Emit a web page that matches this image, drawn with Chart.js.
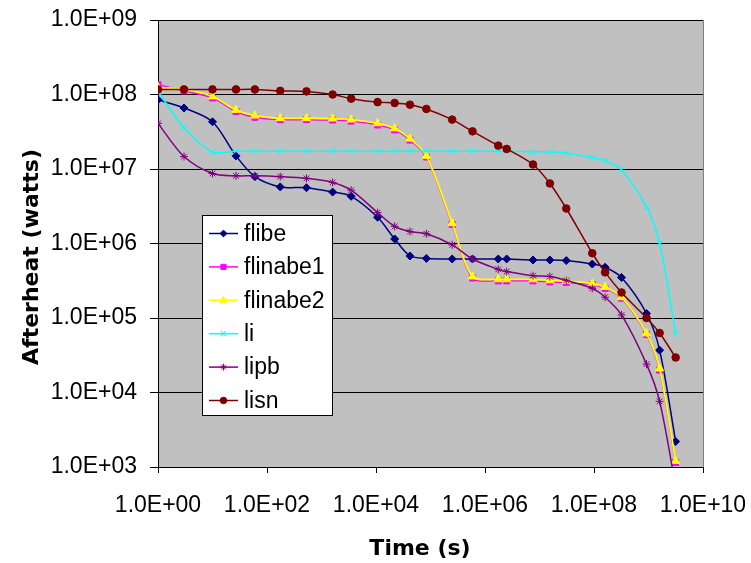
<!DOCTYPE html>
<html lang="en">
<head>
    <meta charset="UTF-8">
    <title>Afterheat vs Time</title>
    <style>
        html, body {
            margin: 0;
            padding: 0;
            background: #ffffff;
        }

        #wrap {
            width: 751px;
            height: 563px;
        }
    </style>
</head>
<body>
<div id="wrap">
    <canvas id="heatChart" width="751" height="563"></canvas>
</div>

<script src="https://cdn.jsdelivr.net/npm/chart.js"></script>
<script>
    // time after shutdown in seconds (1 s up to ~100 years)
    const timeSec = [1, 3, 10, 27, 60, 175, 530, 1600, 3500, 1.07e4, 2.2e4, 4.2e4, 8.4e4,
        2.5e5, 5.9e5, 1.75e6, 2.5e6, 7.6e6, 1.55e7, 3.1e7, 9.3e7, 1.6e8, 3.2e8, 9.2e8, 1.6e9, 3.15e9];

    // afterheat in watts, one value per time step
    const flibe = [8.5e7, 6.6e7, 4.3e7, 1.5e7, 7.9e6, 5.75e6, 5.6e6, 4.9e6, 4.3e6, 2.25e6, 1.15e6, 6.8e5, 6.3e5,
        6.2e5, 6.2e5, 6.2e5, 6.2e5, 6.0e5, 6.0e5, 5.9e5, 5.3e5, 4.8e5, 3.5e5, 1.15e5, 3.7e4, 2.2e3];
    const flinabe1 = [1.35e8, 1.12e8, 9.0e7, 5.9e7, 4.95e7, 4.6e7, 4.6e7, 4.55e7, 4.4e7, 3.9e7, 3.35e7, 2.45e7, 1.45e7,
        1.8e6, 3.45e5, 3.15e5, 3.15e5, 3.15e5, 3.05e5, 3.0e5, 2.8e5, 2.5e5, 1.85e5, 6.0e4, 2.0e4, 1.15e3];
    const flinabe2 = [1.25e8, 1.17e8, 9.4e7, 6.2e7, 5.2e7, 4.8e7, 4.8e7, 4.75e7, 4.6e7, 4.1e7, 3.5e7, 2.55e7, 1.5e7,
        1.87e6, 3.6e5, 3.3e5, 3.3e5, 3.3e5, 3.2e5, 3.15e5, 2.9e5, 2.6e5, 1.9e5, 6.2e4, 2.1e4, 1.2e3];
    const li = [1.1e8, 3.6e7, 1.7e7, 1.73e7, 1.73e7, 1.73e7, 1.73e7, 1.73e7, 1.73e7, 1.73e7, 1.73e7, 1.73e7, 1.73e7,
        1.73e7, 1.73e7, 1.73e7, 1.73e7, 1.7e7, 1.7e7, 1.63e7, 1.42e7, 1.29e7, 9.8e6, 3.1e6, 1.02e6, 6.2e4];
    const lipb = [4.1e7, 1.47e7, 8.7e6, 8.1e6, 8.1e6, 7.9e6, 7.5e6, 6.6e6, 5.2e6, 2.6e6, 1.7e6, 1.45e6, 1.35e6,
        9.6e5, 6.2e5, 4.5e5, 4.2e5, 3.7e5, 3.6e5, 3.2e5, 2.5e5, 1.9e5, 1.1e5, 2.4e4, 7.6e3, 5.5e2];
    const lisn = [1.17e8, 1.17e8, 1.17e8, 1.17e8, 1.17e8, 1.12e8, 1.1e8, 1.0e8, 8.8e7, 7.9e7, 7.7e7, 7.3e7, 6.4e7,
        4.6e7, 3.2e7, 2.06e7, 1.86e7, 1.15e7, 6.4e6, 2.95e6, 7.4e5, 4.1e5, 2.2e5, 1.0e5, 6.3e4, 2.95e4];

    const seriesNames = ['flibe', 'flinabe1', 'flinabe2', 'li', 'lipb', 'lisn'];
    const xTickValues = [1, 1e2, 1e4, 1e6, 1e8, 1e10];
    const yTickValues = [1e3, 1e4, 1e5, 1e6, 1e7, 1e8, 1e9];

    const tickFont = { family: "'Liberation Sans', Arial, sans-serif", size: 23 };
    const titleFont = "bold 22px 'DejaVu Sans', sans-serif";

    // Excel style "1.0E+07"
    function sciLabel(value) {
        const e = Math.round(Math.log10(value));
        const pad = String(Math.abs(e)).padStart(2, '0');
        return '1.0E' + (e < 0 ? '-' : '+') + pad;
    }

    function toPoints(values) {
        return values.map((v, i) => ({ x: timeSec[i], y: v }));
    }

    // gray plot area + right border
    const plotBackground = {
        id: 'plotBackground',
        beforeDraw(chart) {
            const { ctx, chartArea: a } = chart;
            ctx.save();
            ctx.fillStyle = '#c0c0c0';
            ctx.fillRect(a.left, a.top, a.right - a.left, a.bottom - a.top);
            ctx.restore();
        },
        beforeDatasetsDraw(chart) {
            const { ctx, chartArea: a } = chart;
            const rx = Math.round(a.right) + 0.5;
            ctx.save();
            ctx.strokeStyle = '#808080';
            ctx.lineWidth = 1;
            ctx.beginPath();
            ctx.moveTo(rx, a.top);
            ctx.lineTo(rx, a.bottom);
            ctx.stroke();
            ctx.restore();
        }
    };

    // axis titles, placed where Excel put them
    const axisTitles = {
        id: 'axisTitles',
        afterDraw(chart) {
            const ctx = chart.ctx;
            ctx.save();
            ctx.fillStyle = '#000';
            ctx.font = titleFont;
            ctx.textAlign = 'center';
            ctx.textBaseline = 'middle';
            ctx.fillText('Time (s)', 420, 549);
            ctx.translate(32, 257);
            ctx.rotate(-Math.PI / 2);
            ctx.fillText('Afterheat (watts)', 0, 0);
            ctx.restore();
        }
    };

    // boxed legend inside the plot area
    const boxLegend = {
        id: 'boxLegend',
        afterDraw(chart) {
            const ctx = chart.ctx;
            const bx = 202.5, by = 215.5, bw = 130, bh = 200;
            ctx.save();
            ctx.fillStyle = '#ffffff';
            ctx.fillRect(bx, by, bw, bh);
            ctx.strokeStyle = '#000';
            ctx.lineWidth = 1;
            ctx.strokeRect(bx, by, bw, bh);

            ctx.font = tickFont.size + 'px ' + tickFont.family;
            ctx.textAlign = 'left';
            ctx.textBaseline = 'middle';
            chart.data.datasets.forEach((ds, i) => {
                const y = 233.5 + i * 33.4;
                ctx.strokeStyle = ds.borderColor;
                ctx.lineWidth = ds.borderWidth;
                ctx.beginPath();
                ctx.moveTo(209, y);
                ctx.lineTo(238, y);
                ctx.stroke();
                ctx.fillStyle = ds.pointBackgroundColor;
                ctx.strokeStyle = ds.pointBorderColor;
                ctx.lineWidth = 1;
                Chart.helpers.drawPoint(ctx, {
                    pointStyle: ds.pointStyle,
                    radius: ds.pointRadius * 0.85,
                    rotation: 0,
                    borderWidth: 1
                }, 223.5, y);
                ctx.fillStyle = '#000';
                ctx.fillText(ds.label, 244, y + 1);
            });
            ctx.restore();
        }
    };

    function makeSet(label, values, color, style, radius, width, order) {
        return {
            label: label,
            data: toPoints(values),
            borderColor: color,
            backgroundColor: color,
            pointBackgroundColor: color,
            pointBorderColor: color,
            pointStyle: style,
            pointRadius: radius,
            pointBorderWidth: 1,
            borderWidth: width,
            tension: 0.3,
            order: order
        };
    }

    const ctx = document.getElementById('heatChart').getContext('2d');
    const heatChart = new Chart(ctx, {
        type: 'line',
        data: {
            datasets: [
                makeSet(seriesNames[0], flibe, '#000080', 'rectRot', 4, 1.5, 6),
                makeSet(seriesNames[1], flinabe1, '#ff00ff', 'rect', 4.3, 1.5, 5),
                makeSet(seriesNames[2], flinabe2, '#ffff00', 'triangle', 4.8, 1.8, 4),
                makeSet(seriesNames[3], li, '#00ffff', 'crossRot', 4.5, 1.5, 3),
                makeSet(seriesNames[4], lipb, '#800080', 'star', 4, 1.5, 2),
                makeSet(seriesNames[5], lisn, '#800000', 'circle', 3.8, 1.5, 1)
            ]
        },
        options: {
            responsive: false,
            animation: false,
            layout: {
                padding: { top: 20, right: 48, left: 0, bottom: 0 }
            },
            plugins: {
                legend: { display: false },
                tooltip: { enabled: false }
            },
            scales: {
                x: {
                    type: 'logarithmic',
                    min: 1,
                    max: 1e10,
                    afterBuildTicks: s => { s.ticks = xTickValues.map(v => ({ value: v })); },
                    afterFit: s => {
                        s.height = 96;
                        s.paddingLeft = 0;
                        s.paddingRight = 0;
                    },
                    grid: { drawOnChartArea: false, drawTicks: true, tickLength: 6, color: '#000' },
                    border: { color: '#000', width: 1 },
                    ticks: {
                        color: '#000',
                        font: tickFont,
                        padding: 19,
                        maxRotation: 0,
                        autoSkip: false,
                        callback: sciLabel
                    }
                },
                y: {
                    type: 'logarithmic',
                    min: 1e3,
                    max: 1e9,
                    afterBuildTicks: s => { s.ticks = yTickValues.map(v => ({ value: v })); },
                    afterFit: s => {
                        s.width = 158;
                        s.paddingTop = 0;
                        s.paddingBottom = 0;
                    },
                    grid: { drawOnChartArea: true, drawTicks: true, tickLength: 8, color: '#000' },
                    border: { color: '#000', width: 1 },
                    ticks: {
                        color: '#000',
                        font: tickFont,
                        padding: 13,
                        autoSkip: false,
                        callback: sciLabel
                    }
                }
            }
        },
        plugins: [plotBackground, axisTitles, boxLegend]
    });
</script>
</body>
</html>
